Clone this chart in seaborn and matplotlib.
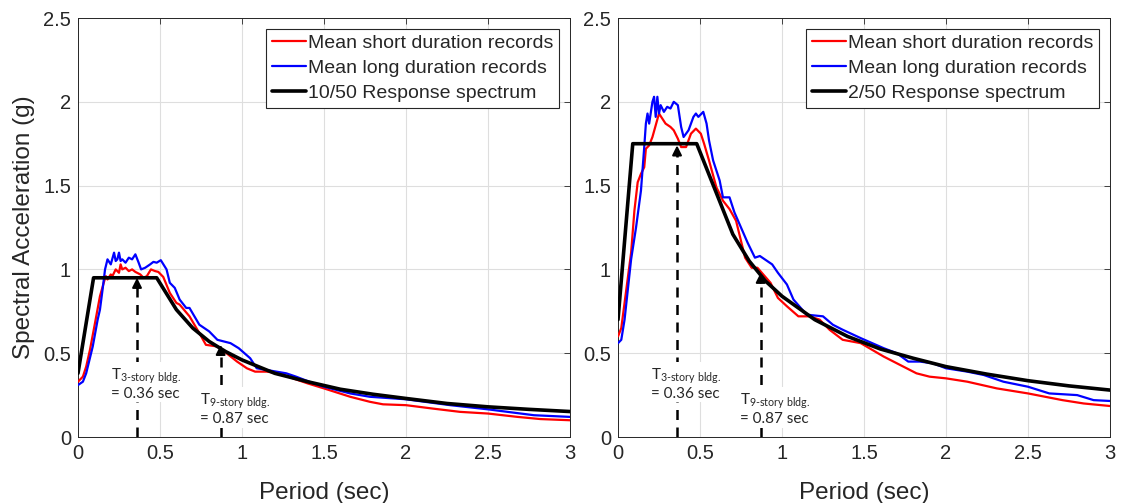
import numpy as np
import pandas as pd
import matplotlib
matplotlib.use("Agg")
import matplotlib.pyplot as plt
import seaborn as sns

# Datos: (periodo en s, Sa en g)
left_short = [(0, 0.33), (0.03, 0.36), (0.05, 0.42), (0.073, 0.52), (0.10, 0.66), (0.134, 0.84),
              (0.16, 0.93), (0.17, 0.96), (0.18, 0.94), (0.20, 0.97), (0.21, 0.96), (0.23, 1.0),
              (0.25, 0.98), (0.26, 1.03), (0.27, 1.0), (0.29, 1.01), (0.31, 0.99), (0.33, 1.0),
              (0.35, 0.985), (0.38, 0.97), (0.40, 0.95), (0.42, 0.96), (0.445, 1.0), (0.47, 0.99),
              (0.49, 0.985), (0.52, 0.955), (0.56, 0.86), (0.60, 0.80), (0.62, 0.79), (0.68, 0.72),
              (0.74, 0.62), (0.78, 0.55), (0.85, 0.54), (0.88, 0.52), (0.97, 0.45), (1.03, 0.41),
              (1.08, 0.39), (1.15, 0.39), (1.23, 0.38), (1.31, 0.35), (1.40, 0.32), (1.5, 0.29),
              (1.66, 0.24), (1.78, 0.21), (1.86, 0.195), (2.0, 0.19), (2.16, 0.17), (2.33, 0.15),
              (2.5, 0.14), (2.68, 0.12), (2.82, 0.107), (3.0, 0.10)]
left_long = [(0, 0.31), (0.03, 0.33), (0.05, 0.38), (0.07, 0.46), (0.09, 0.54), (0.12, 0.70),
             (0.134, 0.76), (0.15, 0.88), (0.165, 1.0), (0.18, 1.06), (0.20, 1.03), (0.22, 1.10),
             (0.23, 1.05), (0.24, 1.06), (0.25, 1.10), (0.26, 1.05), (0.27, 1.06), (0.29, 1.04),
             (0.31, 1.07), (0.33, 1.06), (0.35, 1.09), (0.37, 1.04), (0.385, 1.0), (0.41, 1.01),
             (0.44, 1.03), (0.46, 1.045), (0.48, 1.04), (0.505, 1.055), (0.54, 1.0), (0.56, 0.92),
             (0.59, 0.89), (0.62, 0.82), (0.66, 0.77), (0.68, 0.77), (0.74, 0.67), (0.80, 0.63),
             (0.85, 0.58), (0.93, 0.56), (0.98, 0.53), (1.05, 0.47), (1.09, 0.41), (1.15, 0.40),
             (1.27, 0.38), (1.33, 0.36), (1.41, 0.33), (1.5, 0.30), (1.66, 0.26), (1.78, 0.24),
             (2.0, 0.225), (2.27, 0.19), (2.5, 0.165), (2.78, 0.13), (3.0, 0.12)]
left_spec = [(0, 0.38), (0.095, 0.95), (0.48, 0.95), (0.6, 0.76), (0.7, 0.65), (0.8, 0.57),
             (0.9, 0.51), (1.0, 0.46), (1.2, 0.38), (1.4, 0.33), (1.6, 0.285), (1.8, 0.255),
             (2.0, 0.23), (2.25, 0.20), (2.5, 0.18), (2.75, 0.165), (3.0, 0.152)]

right_short = [(0, 0.60), (0.02, 0.65), (0.04, 0.80), (0.06, 0.95), (0.08, 1.10), (0.10, 1.35),
               (0.12, 1.52), (0.14, 1.57), (0.16, 1.61), (0.17, 1.72), (0.19, 1.74), (0.21, 1.79),
               (0.23, 1.86), (0.25, 1.93), (0.27, 1.90), (0.29, 1.87), (0.32, 1.85), (0.34, 1.83),
               (0.365, 1.78), (0.385, 1.73), (0.415, 1.73), (0.445, 1.81), (0.475, 1.84),
               (0.505, 1.81), (0.525, 1.75), (0.555, 1.65), (0.60, 1.49), (0.64, 1.41), (0.68, 1.36),
               (0.72, 1.29), (0.745, 1.19), (0.775, 1.07), (0.815, 1.01), (0.85, 1.01), (0.93, 0.92),
               (0.975, 0.83), (1.03, 0.78), (1.10, 0.72), (1.17, 0.72), (1.23, 0.70), (1.29, 0.64),
               (1.37, 0.58), (1.48, 0.56), (1.62, 0.48), (1.70, 0.44), (1.82, 0.38), (1.90, 0.36),
               (2.0, 0.35), (2.13, 0.33), (2.31, 0.29), (2.5, 0.26), (2.71, 0.22), (2.84, 0.20),
               (3.0, 0.185)]
right_long = [(0, 0.56), (0.02, 0.58), (0.04, 0.70), (0.06, 0.88), (0.08, 1.06), (0.11, 1.25),
              (0.14, 1.47), (0.16, 1.73), (0.17, 1.87), (0.18, 1.93), (0.19, 1.87), (0.21, 2.0),
              (0.22, 2.03), (0.23, 1.91), (0.24, 2.03), (0.25, 1.93), (0.26, 1.98), (0.28, 1.94),
              (0.30, 1.97), (0.32, 1.96), (0.34, 2.0), (0.365, 1.98), (0.385, 1.85), (0.40, 1.79),
              (0.43, 1.83), (0.46, 1.91), (0.475, 1.93), (0.49, 1.91), (0.52, 1.94), (0.54, 1.87),
              (0.555, 1.77), (0.58, 1.65), (0.62, 1.53), (0.64, 1.43), (0.68, 1.43), (0.71, 1.34),
              (0.75, 1.25), (0.79, 1.16), (0.835, 1.07), (0.865, 1.08), (0.94, 1.03), (0.975, 0.98),
              (1.03, 0.91), (1.07, 0.82), (1.15, 0.73), (1.25, 0.72), (1.31, 0.67), (1.37, 0.64),
              (1.48, 0.59), (1.62, 0.53), (1.70, 0.50), (1.77, 0.45), (1.84, 0.45), (1.92, 0.44),
              (2.0, 0.41), (2.13, 0.39), (2.23, 0.37), (2.35, 0.33), (2.5, 0.30), (2.63, 0.26),
              (2.80, 0.25), (2.90, 0.22), (3.0, 0.215)]
right_spec = [(0, 0.70), (0.09, 1.75), (0.48, 1.75), (0.7, 1.21), (0.8, 1.05), (0.9, 0.93),
              (1.0, 0.84), (1.2, 0.70), (1.4, 0.60), (1.6, 0.525), (1.8, 0.47), (2.0, 0.42),
              (2.25, 0.375), (2.5, 0.336), (2.75, 0.305), (3.0, 0.28)]

# Periodos de los edificios y puntas de flecha
bldg_periods = [0.36, 0.87]
left_tips = [0.95, 0.55]
right_tips = [1.74, 0.98]
bldg_labels = ["3", "9"]

spec_labels = ["10/50 Response spectrum", "2/50 Response spectrum"]
xticks = [0, 0.5, 1, 1.5, 2, 2.5, 3]
yticks = [0, 0.5, 1, 1.5, 2, 2.5]

sns.set_style("white")
plt.rcParams['font.family'] = ['Liberation Sans', 'DejaVu Sans']
plt.rcParams['mathtext.fontset'] = 'custom'
plt.rcParams['mathtext.rm'] = 'Lato'
plt.rcParams['mathtext.it'] = 'Lato'

dark = "#262626"
fig = plt.figure(figsize=(11.22, 5.03), dpi=100)
ax1 = fig.add_axes([0.0695, 0.1312, 0.4385, 0.833])
ax2 = fig.add_axes([0.5508, 0.1312, 0.4385, 0.833])

paneles = [
    (ax1, left_short, left_long, left_spec, left_tips, spec_labels[0]),
    (ax2, right_short, right_long, right_spec, right_tips, spec_labels[1]),
]

for ax, short, long_, spec, tips, spec_lab in paneles:
    df_s = pd.DataFrame(short, columns=["T", "Sa"])
    df_l = pd.DataFrame(long_, columns=["T", "Sa"])
    df_e = pd.DataFrame(spec, columns=["T", "Sa"])
    sns.lineplot(data=df_s, x="T", y="Sa", ax=ax, color="#ff0000", lw=1.6,
                 sort=False, estimator=None, label="Mean short duration records", zorder=3)
    sns.lineplot(data=df_l, x="T", y="Sa", ax=ax, color="#0000ff", lw=1.6,
                 sort=False, estimator=None, label="Mean long duration records", zorder=3)
    sns.lineplot(data=df_e, x="T", y="Sa", ax=ax, color="black", lw=2.6,
                 sort=False, estimator=None, label=spec_lab, zorder=4)

    # flechas discontinuas
    for tp, tip in zip(bldg_periods, tips):
        ax.plot([tp, tp], [0, tip - 0.05], color="black", lw=1.8, ls=(0, (4, 3)), zorder=2)
        ax.annotate("", xy=(tp, tip), xytext=(tp, tip - 0.06),
                    arrowprops=dict(arrowstyle="-|>", color="black", lw=1.5,
                                    mutation_scale=14, shrinkA=0, shrinkB=0), zorder=5)

    # textos de periodos
    txt_pos = [(0.20, 0.42), (0.745, 0.27)]
    for (tx, ty), tp, nb in zip(txt_pos, bldg_periods, bldg_labels):
        ax.text(tx, ty, "T$_{\\mathrm{" + nb + "\u2010story\\ bldg.}}$\n= %.2f sec" % tp,
                fontsize=11, family="Lato", va="top", ha="left", linespacing=1.1,
                bbox=dict(fc="white", ec="none", pad=1), zorder=6)

    ax.set_xlim(0, 3)
    ax.set_ylim(0, 2.5)
    ax.set_xticks(xticks)
    ax.set_xticklabels([f"{v:g}" for v in xticks])
    ax.set_yticks(yticks)
    ax.set_yticklabels([f"{v:g}" for v in yticks])
    ax.grid(True, color="#dedede", lw=0.8)
    ax.tick_params(direction="in", length=4, width=0.6, colors=dark, labelsize=14.5,
                   top=True, right=True, labelcolor=dark, pad=5)
    for s in ax.spines.values():
        s.set_visible(True)
        s.set_color(dark)
        s.set_linewidth(0.7)
    ax.set_xlabel("Period (sec)", fontsize=17.5, color=dark, labelpad=14)
    ax.set_ylabel("")
    leg = ax.legend(loc="upper right", fontsize=14, handlelength=1.75, handletextpad=0.12,
                    borderpad=0.3, labelspacing=0.38, borderaxespad=0.55,
                    fancybox=False, framealpha=1)
    leg.get_frame().set_edgecolor(dark)
    leg.get_frame().set_linewidth(0.8)

ax1.set_ylabel("Spectral Acceleration (g)", fontsize=17.5, color=dark, labelpad=6)

fig.savefig("out.png", dpi=100)
